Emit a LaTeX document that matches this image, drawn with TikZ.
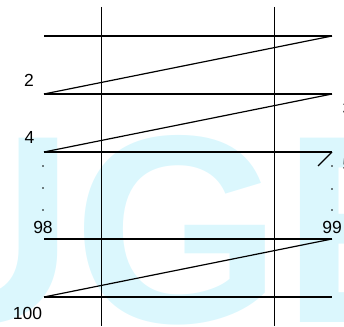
\documentclass[tikz,border=0pt]{standalone}
\usepackage{fontspec}
\setmainfont{Liberation Sans}
\usepackage{xcolor}
\usepackage{tikz}
\usetikzlibrary{positioning}
\definecolor{markcyan}{RGB}{219,247,253}
\tikzset{
  rowline/.style={line width=1.2pt,draw=black},
  zigline/.style={line width=1.2pt,draw=black},
  colline/.style={line width=1.2pt,draw=black},
  numlabel/.style={font=\fontsize{17.5}{20}\selectfont,inner sep=0pt},
  dotmark/.style={circle,fill=black,inner sep=0pt,minimum size=1.8pt},
  watermark/.style={font=\fontsize{268}{268}\selectfont\bfseries,
    text=markcyan,inner sep=0pt}
}
\begin{document}
\begin{tikzpicture}[x=1pt,y=1pt]
  \useasboundingbox (0,0) rectangle (344,326);
  \node[watermark,anchor=base west] (mark) at (-120,4) {UGE};
  % rows, left ends and right ends
  \coordinate (l1) at (44,290);  \coordinate (r1) at (332,290);
  \coordinate (l2) at (44,232);  \coordinate (r2) at (332,232);
  \coordinate (l3) at (44,174);  \coordinate (r3) at (332,174);
  \coordinate (l4) at (44,87);   \coordinate (r4) at (332,87);
  \coordinate (l5) at (44,29);   \coordinate (r5) at (332,29);
  \coordinate (s3) at (318,160);
  % columns
  \coordinate (ca) at (101.5,319); \coordinate (cb) at (101.5,0);
  \coordinate (cc) at (274.5,319); \coordinate (cd) at (274.5,0);
  \draw[colline] (ca) -- (cb);
  \draw[colline] (cc) -- (cd);
  \draw[rowline] (l1) -- (r1);
  \draw[rowline] (l2) -- (r2);
  \draw[rowline] (l3) -- (r3);
  \draw[rowline] (l4) -- (r4);
  \draw[rowline] (l5) -- (r5);
  \draw[zigline] (l2) -- (r1);
  \draw[zigline] (l3) -- (r2);
  \draw[zigline] (r3) -- (s3);
  \draw[zigline] (l5) -- (r4);
  % numbers
  \node[numlabel] (n2) at (29,245.5) {2};
  \node[numlabel] (n4) at (29.5,189) {4};
  \node[numlabel] (n98) at (43,98.3) {98};
  \node[numlabel] (n100) at (27.5,12.5) {100};
  \node[numlabel] (n1) at (348.5,276) {1};
  \node[numlabel] (n3) at (347.5,218) {3};
  \node[numlabel] (n5) at (347.5,161) {5};
  \node[numlabel] (n99) at (332,98.3) {99};
  % dots
  \node[dotmark] (da) at (43,160) {};
  \node[dotmark] (db) at (43,138) {};
  \node[dotmark] (dc) at (43,116) {};
  \node[dotmark] (dd) at (332,160) {};
  \node[dotmark] (de) at (332,137) {};
  \node[dotmark] (df) at (332,116) {};
\end{tikzpicture}
\end{document}
